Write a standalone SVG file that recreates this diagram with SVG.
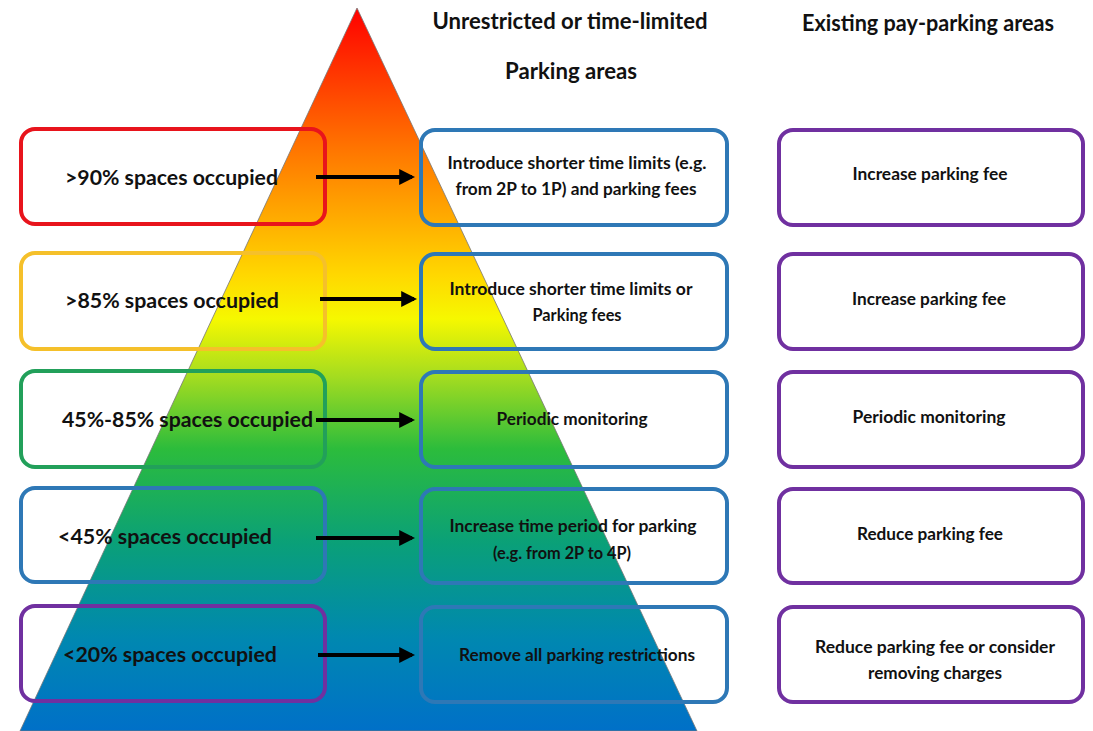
<svg xmlns="http://www.w3.org/2000/svg" width="1093" height="731" viewBox="0 0 1093 731">
<defs>
<linearGradient id="g" x1="0" y1="8" x2="0" y2="731" gradientUnits="userSpaceOnUse">
<stop offset="0" stop-color="#ff0000"/>
<stop offset="0.2" stop-color="#ff7800"/>
<stop offset="0.37" stop-color="#ffd800"/>
<stop offset="0.43" stop-color="#f6f800"/>
<stop offset="0.51" stop-color="#a4dc20"/>
<stop offset="0.61" stop-color="#2cbc3c"/>
<stop offset="0.74" stop-color="#0aa078"/>
<stop offset="0.87" stop-color="#0088b0"/>
<stop offset="1" stop-color="#0070c8"/>
</linearGradient>
<marker id="ah" markerWidth="4" markerHeight="4" refX="3.2" refY="2" orient="auto" markerUnits="strokeWidth">
<path d="M0,0 L4,2 L0,4 Z" fill="#000"/>
</marker>
<style>
text{font-family:Lato,"Liberation Sans",sans-serif;font-weight:bold;fill:#111}
.h{font-size:22px;text-anchor:middle}
.l{font-size:21.5px}
.m{font-size:16.5px;text-anchor:middle}
.bx{fill:none;stroke-width:4}
.mid{fill:none;stroke:#2e78b6;stroke-width:4}
.rt{fill:#fff;stroke:#7030a0;stroke-width:4}
.ar{stroke:#000;stroke-width:4;fill:none;marker-end:url(#ah)}
</style>
</defs>
<rect width="1093" height="731" fill="#fff"/>
<g id="pyramid">
<polygon points="357,8 20,731 697,731" fill="url(#g)" stroke="#777" stroke-width="0.8"/>
</g>
<g id="headers">
<text class="h" x="570" y="29" textLength="275" lengthAdjust="spacingAndGlyphs">Unrestricted or time-limited</text>
<text class="h" x="571" y="79" textLength="132" lengthAdjust="spacingAndGlyphs">Parking areas</text>
<text class="h" x="928" y="31" textLength="252" lengthAdjust="spacingAndGlyphs">Existing pay-parking areas</text>
</g>
<g id="left1"><rect class="bx" x="21" y="129" width="304" height="95" rx="14" stroke="#e8141c"/><text class="l" x="65" y="185" textLength="213" lengthAdjust="spacingAndGlyphs">&gt;90% spaces occupied</text></g>
<g id="left2"><rect class="bx" x="21" y="253" width="304" height="96" rx="14" stroke="#f5c02a"/><text class="l" x="65" y="308" textLength="214" lengthAdjust="spacingAndGlyphs">&gt;85% spaces occupied</text></g>
<g id="left3"><rect class="bx" x="21" y="371" width="304" height="96" rx="14" stroke="#22a05a"/><text class="l" x="62" y="427" textLength="251" lengthAdjust="spacingAndGlyphs">45%-85% spaces occupied</text></g>
<g id="left4"><rect class="bx" x="21" y="488" width="304" height="94" rx="14" stroke="#2e78b6"/><text class="l" x="58" y="544" textLength="214" lengthAdjust="spacingAndGlyphs">&lt;45% spaces occupied</text></g>
<g id="left5"><rect class="bx" x="21" y="606" width="304" height="95" rx="14" stroke="#7030a0"/><text class="l" x="63" y="662" textLength="214" lengthAdjust="spacingAndGlyphs">&lt;20% spaces occupied</text></g>
<g id="mid1"><rect class="mid" x="421" y="130" width="306" height="95" rx="14"/><text class="m" x="577" y="169" textLength="259" lengthAdjust="spacingAndGlyphs">Introduce shorter time limits (e.g.</text><text class="m" x="576" y="195" textLength="241" lengthAdjust="spacingAndGlyphs">from 2P to 1P) and parking fees</text></g>
<g id="mid2"><rect class="mid" x="421" y="254" width="306" height="95" rx="14"/><text class="m" x="571" y="295" textLength="243" lengthAdjust="spacingAndGlyphs">Introduce shorter time limits or</text><text class="m" x="577" y="321" textLength="89" lengthAdjust="spacingAndGlyphs">Parking fees</text></g>
<g id="mid3"><rect class="mid" x="421" y="372" width="306" height="95" rx="14"/><text class="m" x="572" y="425" textLength="151" lengthAdjust="spacingAndGlyphs">Periodic monitoring</text></g>
<g id="mid4"><rect class="mid" x="421" y="489" width="306" height="94" rx="14"/><text class="m" x="573" y="532" textLength="247" lengthAdjust="spacingAndGlyphs">Increase time period for parking</text><text class="m" x="562" y="559" textLength="138" lengthAdjust="spacingAndGlyphs">(e.g. from 2P to 4P)</text></g>
<g id="mid5"><rect class="mid" x="421" y="607" width="306" height="95" rx="14"/><text class="m" x="577" y="661" textLength="236" lengthAdjust="spacingAndGlyphs">Remove all parking restrictions</text></g>
<g id="right1"><rect class="rt" x="779" y="130" width="304" height="95" rx="14"/><text class="m" x="930" y="180" textLength="155" lengthAdjust="spacingAndGlyphs">Increase parking fee</text></g>
<g id="right2"><rect class="rt" x="779" y="254" width="304" height="95" rx="14"/><text class="m" x="929" y="305" textLength="154" lengthAdjust="spacingAndGlyphs">Increase parking fee</text></g>
<g id="right3"><rect class="rt" x="779" y="372" width="304" height="95" rx="14"/><text class="m" x="929" y="423" textLength="153" lengthAdjust="spacingAndGlyphs">Periodic monitoring</text></g>
<g id="right4"><rect class="rt" x="779" y="489" width="304" height="94" rx="14"/><text class="m" x="930" y="540" textLength="146" lengthAdjust="spacingAndGlyphs">Reduce parking fee</text></g>
<g id="right5"><rect class="rt" x="779" y="607" width="304" height="95" rx="14"/><text class="m" x="935" y="653" textLength="240" lengthAdjust="spacingAndGlyphs">Reduce parking fee or consider</text><text class="m" x="935" y="679" textLength="134" lengthAdjust="spacingAndGlyphs">removing charges</text></g>
<g id="connectors">
<line class="ar" x1="316" y1="177" x2="412" y2="177"/>
<line class="ar" x1="320" y1="299" x2="414" y2="299"/>
<line class="ar" x1="316" y1="420" x2="412" y2="420"/>
<line class="ar" x1="316" y1="538" x2="412" y2="538"/>
<line class="ar" x1="318" y1="655" x2="412" y2="655"/>
</g>
</svg>
